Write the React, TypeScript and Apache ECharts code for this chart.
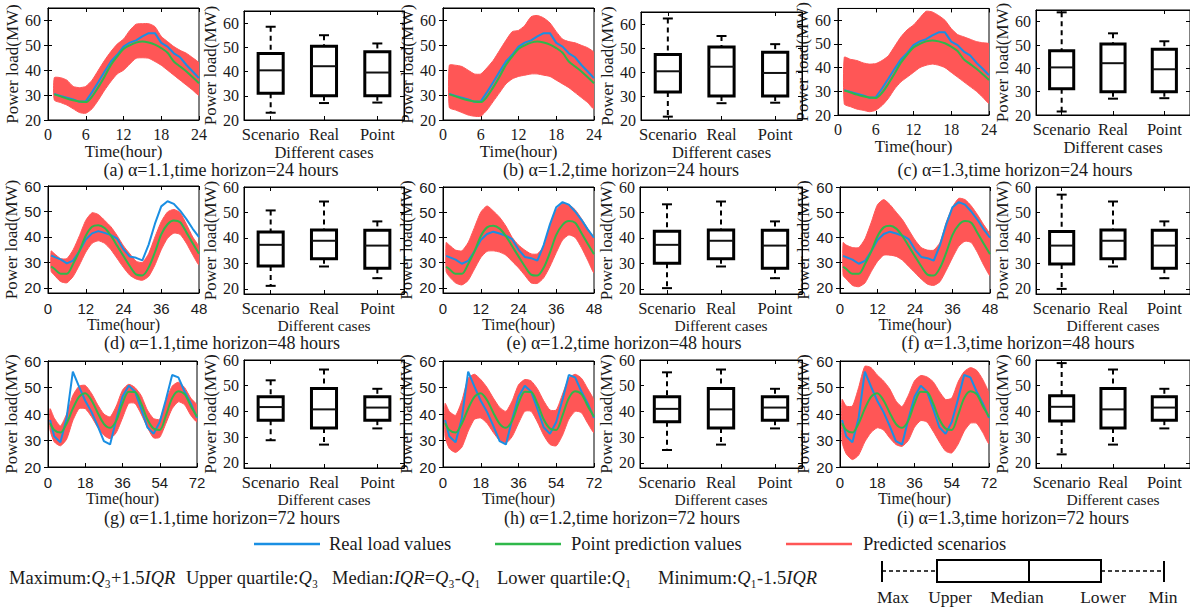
import React, { useEffect, useRef } from "react";
import * as echarts from "echarts";

// ---------------- data ----------------
const hours24 = [1, 2, 3, 4, 5, 6, 7, 8, 9, 10, 11, 12, 13, 14, 15, 16, 17, 18, 19, 20, 21, 22, 23, 24];
const hours48 = [1, 2, 4, 6, 8, 10, 12, 14, 16, 18, 20, 22, 24, 26, 28, 30, 32, 34, 36, 38, 40, 42, 44, 46, 48];
const hours72 = [1, 3, 6, 9, 12, 15, 18, 21, 24, 27, 30, 33, 36, 39, 42, 45, 48, 51, 54, 57, 60, 63, 66, 69, 72];

const real24 = [30.5, 29.7, 29.0, 28.3, 27.3, 27.5, 31.2, 35.3, 39.5, 43.5, 46.2, 49.5, 51.1, 52.0, 53.6, 54.9, 54.9, 51.0, 49.5, 46.8, 45.2, 42.1, 39.5, 36.8];
const point24 = [30.3, 29.5, 28.6, 27.9, 27.4, 27.2, 29.4, 33.2, 37.5, 42.1, 45.5, 48.5, 50.0, 51.1, 51.5, 51.1, 50.3, 48.9, 47.0, 43.5, 41.5, 39.5, 37.2, 34.8];
const upperA = [37, 37, 36, 33.5, 33, 33.5, 36, 40, 44, 47.5, 50.5, 52.5, 56, 58.5, 58.7, 58.7, 57.5, 53.6, 51.5, 49.5, 48, 46.8, 45, 42.8];
const lowerA = [28, 27, 26, 24.5, 23, 22.7, 24.5, 28, 32, 35.5, 38.5, 40, 42.5, 44.8, 45, 44.8, 43.5, 42, 40, 38, 36, 34, 32, 30];
const upperB = [42, 42, 41.5, 40, 38.5, 38.5, 41, 44, 48, 52, 55.5, 56, 58, 61.5, 62, 61, 59, 55.5, 52.5, 51.5, 51, 50, 49, 47];
const lowerB = [25, 24, 23, 22, 21.5, 21.5, 24, 27.5, 31, 34.5, 36.5, 37.5, 38, 38.5, 38.5, 38, 37.5, 36, 34.5, 33, 31, 29, 27, 24.5];
const upperC = [44.4, 43.5, 43, 42, 41.5, 41.7, 43, 45, 49, 53, 56, 58, 61, 63.8, 63.5, 62, 60, 56.5, 54, 53, 52, 51, 50.5, 50];
const lowerC = [24.6, 23.5, 22.5, 22, 21.4, 22, 24, 27, 31, 34, 36, 38, 40, 41, 41.5, 41, 40, 38, 36, 34, 32, 30, 27.5, 25];

const real48 = [32.7, 32.2, 31.2, 29.6, 30.7, 34.5, 39, 41.4, 42.3, 41.6, 40.7, 39.3, 35.2, 32.3, 31.8, 30.8, 37, 45.2, 52, 54, 53, 50.3, 47, 43.2, 39.9];
const point48 = [28.4, 27.5, 25.6, 25.6, 29.5, 34.5, 40.5, 44, 44.6, 43.5, 40.5, 36.5, 32.5, 28.6, 25.3, 24.9, 28, 34, 41, 45, 46.5, 45.8, 41.8, 37.5, 33.4];
const upperD = [34.5, 33.5, 31.5, 31.5, 35, 40.5, 46.5, 49.5, 48.8, 46.5, 44, 40.5, 36.5, 33.4, 30.5, 30, 33.5, 40, 46, 49.8, 50.8, 49.5, 45, 40, 36];
const lowerD = [26.5, 25, 22.5, 22, 24.5, 29, 34, 37.5, 38.5, 37.5, 35, 31.5, 28, 25, 23.5, 23, 24.5, 29, 35, 39.5, 41.5, 41, 37.5, 33, 29];
const upperE = [38, 37, 35, 34.7, 38, 44, 50, 52.5, 50.5, 48, 44.5, 40, 37, 35, 33.5, 33.5, 36.5, 45, 51, 53.5, 53, 51, 47.5, 43.5, 39.3];
const lowerE = [26.5, 24.5, 22, 21.2, 23, 27.5, 32, 34.5, 34.7, 34.2, 33, 30.5, 28, 25, 22, 21.8, 24, 28.5, 34, 39, 41, 40, 36, 31, 26];
const upperF = [38, 37, 36, 36, 39.5, 46, 53, 55, 53, 50, 47, 43, 39, 36, 35, 35, 38, 46, 52, 55.5, 55, 52.5, 49, 45, 41];
const lowerF = [25, 23.5, 21, 20.5, 22, 26.5, 30.5, 33, 33, 32.5, 31, 28.5, 26, 23.5, 21.5, 21, 22.5, 27, 32, 36.5, 38.5, 38, 34, 29, 25];

const real72 = [37.7, 31.6, 29.3, 38.5, 56, 50.3, 45, 40.8, 35.5, 29.8, 28.5, 38, 46.5, 50.7, 48.5, 42, 35, 32.5, 37, 45.5, 54.7, 53.8, 48.5, 44, 38.5];
const point72 = [36.5, 34, 33, 36.4, 42, 46.5, 47.8, 45.2, 40.5, 36.3, 34.8, 37.5, 44, 48.4, 48.3, 44, 38, 34.5, 34, 39.5, 46, 48.6, 47.5, 43, 39];
const upperG = [42, 38.5, 35.5, 40, 47, 50.5, 50.8, 47.8, 43.5, 40, 38.9, 43, 49, 51.2, 50, 47, 41.5, 38.3, 38, 45, 50.5, 52, 50, 46, 43.3];
const lowerG = [34, 29.5, 28, 30.5, 37.5, 42, 42, 39, 35, 32, 30.7, 33, 38.5, 44, 44, 40, 35, 31, 31.2, 36.5, 42, 44.6, 43.5, 39.5, 37];
const upperH = [44, 41, 39.5, 45, 53.5, 55, 53, 50, 46, 42.5, 41, 45, 51, 53, 52.5, 49.5, 45, 41.5, 41.5, 47.5, 53.5, 55, 53.5, 49.5, 45];
const lowerH = [31.5, 27, 25.5, 27.5, 33.5, 38, 38.5, 36.5, 33, 30, 29, 31.5, 36.5, 41, 41, 37, 32, 28.5, 28, 32, 38, 41, 40.5, 36.5, 33];
const upperI = [45.5, 43, 43, 50, 58, 57.5, 54.7, 52.5, 49.5, 45, 42.8, 47, 52.5, 54.5, 54, 52.2, 48.5, 45.5, 46, 52, 56, 57.5, 56.5, 53, 47.5];
const lowerI = [29.5, 25, 22.8, 24.5, 29.5, 33, 34.8, 34, 31, 28.5, 27.8, 30, 35, 37.5, 37, 33.5, 29.5, 26, 25.3, 28.5, 33.5, 36.5, 36.5, 33, 28.8];

// box statistics: [min, Q1, median, Q3, max]
const boxCategories = ["Scenario", "Real", "Point"];
const boxReal24 = [27, 30, 42.2, 50.4, 55];
const boxPoint24 = [27.2, 30, 39.6, 48.2, 51.6];
const boxScenA = [23, 31, 40.5, 47.5, 58.5];
const boxScenB = [21.4, 31.7, 40.3, 47.3, 62.3];
const boxScenC = [21.5, 31.3, 40.4, 47.5, 64];
const boxReal48 = [28.8, 31.8, 38.9, 43.1, 54.3];
const boxPoint48 = [24.2, 28.1, 37, 43, 46.5];
const boxScenD = [21.2, 29, 37.3, 42.3, 50.8];
const boxScenE = [20.3, 30.1, 37.3, 42.6, 53.2];
const boxScenF = [20, 29.8, 37, 42.5, 57];
const boxReal72 = [27.1, 33.6, 40.8, 48.9, 56.3];
const boxPoint72 = [33.4, 36.6, 41.5, 45.7, 48.8];
const boxScenG = [28.8, 36.6, 41.7, 45.7, 52.1];
const boxScenH = [25, 36, 41, 45.7, 55.2];
const boxScenI = [23.3, 36.3, 41.8, 46.1, 58.8];

const yTickValues = [20, 30, 40, 50, 60];
const captions = [
  "(a) α=1.1,time horizon=24 hours",
  "(b) α=1.2,time horizon=24 hours",
  "(c) α=1.3,time horizon=24 hours",
  "(d) α=1.1,time horizon=48 hours",
  "(e) α=1.2,time horizon=48 hours",
  "(f) α=1.3,time horizon=48 hours",
  "(g) α=1.1,time horizon=72 hours",
  "(h) α=1.2,time horizon=72 hours",
  "(i) α=1.3,time horizon=72 hours",
];
const legendNames = ["Real load values", "Point prediction values", "Predicted scenarios"];
const boxLegendLabels = ["Max", "Upper", "Median", "Lower", "Min"];

// ---------------- style ----------------
const SERIF = "'Liberation Serif', 'Times New Roman', serif";
const SANS = "'Liberation Sans', Arial, sans-serif";
const BLUE = "#1a8fe3";
const GREEN = "#2fb84a";
const RED = "#ff5656";
const TXT = "#1a1a1a";

type Rect = { l: number; t: number; r: number; b: number };
interface Panel {
  hours: number[]; real: number[]; point: number[]; upper: number[]; lower: number[];
  boxes: number[][]; caption: string; xMax: number; xStep: number;
  lineY: [number, number]; boxY: [number, number]; numFont: string; numSize: number; labelMargin: number;
  line: Rect; box: Rect; cap: [number, number]; nameGap: number; nameSize: number;
}

const panels: Panel[] = [
  { hours: hours24, real: real24, point: point24, upper: upperA, lower: lowerA, boxes: [boxScenA, boxReal24, boxPoint24], caption: captions[0], xMax: 24, xStep: 6, lineY: [20, 65], boxY: [20, 65], numFont: SERIF, numSize: 16, labelMargin: 6, line: { l: 48, t: 8, r: 199, b: 120 }, box: { l: 244, t: 11, r: 404, b: 120 }, cap: [221, 170], nameGap: 20, nameSize: 17 },
  { hours: hours24, real: real24, point: point24, upper: upperB, lower: lowerB, boxes: [boxScenB, boxReal24, boxPoint24], caption: captions[1], xMax: 24, xStep: 6, lineY: [20, 65], boxY: [20, 65], numFont: SERIF, numSize: 16, labelMargin: 6, line: { l: 443, t: 8, r: 594, b: 120 }, box: { l: 641, t: 12, r: 802, b: 120 }, cap: [621, 170], nameGap: 20, nameSize: 17 },
  { hours: hours24, real: real24, point: point24, upper: upperC, lower: lowerC, boxes: [boxScenC, boxReal24, boxPoint24], caption: captions[2], xMax: 24, xStep: 6, lineY: [20, 65], boxY: [20, 65], numFont: SERIF, numSize: 16, labelMargin: 6, line: { l: 838, t: 7, r: 989, b: 115 }, box: { l: 1036, t: 10, r: 1193, b: 115 }, cap: [1015, 170], nameGap: 20, nameSize: 17 },
  { hours: hours48, real: real48, point: point48, upper: upperD, lower: lowerD, boxes: [boxScenD, boxReal48, boxPoint48], caption: captions[3], xMax: 48, xStep: 12, lineY: [18, 60], boxY: [18, 60], numFont: SANS, numSize: 15, labelMargin: 8, line: { l: 48, t: 186, r: 199, b: 293 }, box: { l: 244, t: 187, r: 404, b: 294 }, cap: [222, 343], nameGap: 18, nameSize: 16 },
  { hours: hours48, real: real48, point: point48, upper: upperE, lower: lowerE, boxes: [boxScenE, boxReal48, boxPoint48], caption: captions[4], xMax: 48, xStep: 12, lineY: [18, 60], boxY: [18, 60], numFont: SANS, numSize: 15, labelMargin: 8, line: { l: 443, t: 187, r: 594, b: 293 }, box: { l: 640, t: 187, r: 802, b: 294 }, cap: [624, 343], nameGap: 18, nameSize: 16 },
  { hours: hours48, real: real48, point: point48, upper: upperF, lower: lowerF, boxes: [boxScenF, boxReal48, boxPoint48], caption: captions[5], xMax: 48, xStep: 12, lineY: [18, 60], boxY: [18, 60], numFont: SANS, numSize: 15, labelMargin: 8, line: { l: 840, t: 187, r: 990, b: 293 }, box: { l: 1036, t: 187, r: 1193, b: 294 }, cap: [1018, 343], nameGap: 18, nameSize: 16 },
  { hours: hours72, real: real72, point: point72, upper: upperG, lower: lowerG, boxes: [boxScenG, boxReal72, boxPoint72], caption: captions[6], xMax: 72, xStep: 18, lineY: [20, 60], boxY: [18, 60], numFont: SANS, numSize: 15, labelMargin: 8, line: { l: 48, t: 361, r: 197, b: 467 }, box: { l: 244, t: 360, r: 404, b: 468 }, cap: [222, 518], nameGap: 18, nameSize: 16 },
  { hours: hours72, real: real72, point: point72, upper: upperH, lower: lowerH, boxes: [boxScenH, boxReal72, boxPoint72], caption: captions[7], xMax: 72, xStep: 18, lineY: [20, 60], boxY: [18, 60], numFont: SANS, numSize: 15, labelMargin: 8, line: { l: 443, t: 361, r: 594, b: 467 }, box: { l: 640, t: 360, r: 802, b: 468 }, cap: [622, 518], nameGap: 18, nameSize: 16 },
  { hours: hours72, real: real72, point: point72, upper: upperI, lower: lowerI, boxes: [boxScenI, boxReal72, boxPoint72], caption: captions[8], xMax: 72, xStep: 18, lineY: [20, 60], boxY: [18, 60], numFont: SANS, numSize: 15, labelMargin: 8, line: { l: 840, t: 361, r: 989, b: 467 }, box: { l: 1036, t: 360, r: 1193, b: 468 }, cap: [1013, 518], nameGap: 18, nameSize: 16 },
];

function zip(xs: number[], ys: number[]) {
  return xs.map((x, i) => [x, ys[i]]);
}

function makeBandRenderer(p: Panel) {
  return function renderBand(params: any, api: any) {
    if (params.dataIndex !== 0) return null;
    const top = p.hours.map((h, k) => api.coord([h, p.upper[k]]));
    const bot = p.hours.map((h, k) => api.coord([h, p.lower[k]])).reverse();
    return {
      type: "polygon",
      shape: { points: top.concat(bot), smooth: 0.2 },
      style: { fill: RED, stroke: RED, lineWidth: 1 },
    };
  };
}

function renderBox(_params: any, api: any) {
  const xi = api.value(0);
  const pMin = api.coord([xi, api.value(1)]);
  const pQ1 = api.coord([xi, api.value(2)]);
  const pMed = api.coord([xi, api.value(3)]);
  const pQ3 = api.coord([xi, api.value(4)]);
  const pMax = api.coord([xi, api.value(5)]);
  const bw = api.size([1, 0])[0] * 0.47;
  const cx = pMin[0];
  const half = bw / 2;
  const cap = 5;
  const dash = { stroke: "#000", lineWidth: 2, lineDash: [5, 4], fill: "none" };
  const solid = { stroke: "#000", lineWidth: 2, fill: "none" };
  return {
    type: "group",
    children: [
      { type: "line", shape: { x1: cx, y1: pMax[1], x2: cx, y2: pQ3[1] }, style: dash },
      { type: "line", shape: { x1: cx, y1: pQ1[1], x2: cx, y2: pMin[1] }, style: dash },
      { type: "line", shape: { x1: cx - cap, y1: pMax[1], x2: cx + cap, y2: pMax[1] }, style: solid },
      { type: "line", shape: { x1: cx - cap, y1: pMin[1], x2: cx + cap, y2: pMin[1] }, style: solid },
      { type: "rect", shape: { x: cx - half, y: pQ3[1], width: bw, height: pQ1[1] - pQ3[1] }, style: { stroke: "#000", lineWidth: 3, fill: "none" } },
      { type: "line", shape: { x1: cx - half, y1: pMed[1], x2: cx + half, y2: pMed[1] }, style: { stroke: "#111", lineWidth: 2 } },
    ],
  };
}

const tickOnly = {
  axisLine: { show: true, lineStyle: { color: "#000" } },
  axisTick: { show: true, inside: true, length: 4, lineStyle: { color: "#000" } },
  axisLabel: { show: false },
  splitLine: { show: false },
  silent: true,
};

function buildOption() {
  const grid: any[] = [];
  const xAxis: any[] = [];
  const yAxis: any[] = [];
  const xMirror: any[] = [];
  const yMirror: any[] = [];
  const series: any[] = [];
  const graphic: any[] = [];

  panels.forEach((p, i) => {
    const gl = i * 2;
    const gb = i * 2 + 1;
    grid.push({ left: p.line.l, top: p.line.t, width: p.line.r - p.line.l, height: p.line.b - p.line.t, show: true, borderColor: "#000", borderWidth: 1, containLabel: false });
    grid.push({ left: p.box.l, top: p.box.t, width: p.box.r - p.box.l, height: p.box.b - p.box.t, show: true, borderColor: "#000", borderWidth: 1, containLabel: false });

    xAxis.push({
      type: "value", gridIndex: gl, min: 0, max: p.xMax, interval: p.xStep,
      axisLine: { show: true, lineStyle: { color: "#000" } },
      axisTick: { show: true, inside: true, length: 4, lineStyle: { color: "#000" } },
      axisLabel: { fontFamily: p.numFont, fontSize: p.numSize, color: TXT, margin: p.labelMargin, showMinLabel: true, showMaxLabel: true },
      splitLine: { show: false },
      name: "Time(hour)", nameLocation: "middle", nameGap: p.nameGap,
      nameTextStyle: { fontFamily: SERIF, fontSize: p.nameSize, color: TXT },
    });
    xAxis.push({
      type: "category", gridIndex: gb, data: boxCategories, boundaryGap: true,
      axisLine: { show: true, lineStyle: { color: "#000" } },
      axisTick: { show: true, inside: true, length: 4, alignWithLabel: true, lineStyle: { color: "#000" } },
      axisLabel: { fontFamily: SERIF, fontSize: 16.5, color: TXT, margin: 6, interval: 0 },
      splitLine: { show: false },
      name: "Different cases", nameLocation: "middle", nameGap: p.nameGap,
      nameTextStyle: { fontFamily: SERIF, fontSize: p.nameSize - 0.5, color: TXT },
    });
    yAxis.push({
      type: "value", gridIndex: gl, min: p.lineY[0], max: p.lineY[1],
      axisLine: { show: true, lineStyle: { color: "#000" } },
      axisTick: { show: true, inside: true, length: 4, customValues: yTickValues, lineStyle: { color: "#000" } },
      axisLabel: { customValues: yTickValues, fontFamily: p.numFont, fontSize: p.numSize, color: TXT, margin: 7 },
      splitLine: { show: false },
      name: "Power load(MW)", nameLocation: "middle", nameGap: 21,
      nameTextStyle: { fontFamily: SERIF, fontSize: 17, color: TXT },
    });
    yAxis.push({
      type: "value", gridIndex: gb, min: p.boxY[0], max: p.boxY[1],
      axisLine: { show: true, lineStyle: { color: "#000" } },
      axisTick: { show: true, inside: true, length: 4, customValues: yTickValues, lineStyle: { color: "#000" } },
      axisLabel: { customValues: yTickValues, fontFamily: SERIF, fontSize: 16, color: TXT, margin: 5 },
      splitLine: { show: false },
      name: "Power load(MW)", nameLocation: "middle", nameGap: 20,
      nameTextStyle: { fontFamily: SERIF, fontSize: 17, color: TXT },
    });

    // mirrored tick marks on the top and right frames
    xMirror.push({ ...tickOnly, type: "value", gridIndex: gl, position: "top", min: 0, max: p.xMax, interval: p.xStep });
    xMirror.push({ ...tickOnly, type: "category", gridIndex: gb, position: "top", data: boxCategories, axisTick: { ...tickOnly.axisTick, alignWithLabel: true } });
    yMirror.push({ ...tickOnly, type: "value", gridIndex: gl, position: "right", min: p.lineY[0], max: p.lineY[1], axisTick: { ...tickOnly.axisTick, customValues: yTickValues } });
    yMirror.push({ ...tickOnly, type: "value", gridIndex: gb, position: "right", min: p.boxY[0], max: p.boxY[1], axisTick: { ...tickOnly.axisTick, customValues: yTickValues } });

    series.push({
      type: "custom", name: legendNames[2], xAxisIndex: gl, yAxisIndex: gl, silent: true, clip: true,
      renderItem: makeBandRenderer(p),
      encode: { x: 0, y: [1, 2] },
      data: p.hours.map((h, k) => [h, p.lower[k], p.upper[k]]),
      z: 1,
    });
    series.push({
      type: "line", name: legendNames[0], xAxisIndex: gl, yAxisIndex: gl, symbol: "none", silent: true,
      data: zip(p.hours, p.real), lineStyle: { color: BLUE, width: 2 }, z: 3,
    });
    series.push({
      type: "line", name: legendNames[1], xAxisIndex: gl, yAxisIndex: gl, symbol: "none", silent: true, smooth: 0.3,
      data: zip(p.hours, p.point), lineStyle: { color: GREEN, width: 2 }, z: 4,
    });
    series.push({
      type: "custom", xAxisIndex: gb, yAxisIndex: gb, silent: true,
      renderItem: renderBox,
      encode: { x: 0, y: [1, 2, 3, 4, 5] },
      data: p.boxes.map((b, k) => [k, ...b]),
      z: 3,
    });

    graphic.push({
      type: "text", x: p.cap[0], y: p.cap[1],
      style: { text: p.caption, fontFamily: SERIF, fontSize: 18, fill: TXT, align: "center", verticalAlign: "middle" },
    });
  });

  // legend
  const legendItems = [
    { color: BLUE, x1: 254, x2: 320, tx: 329, name: legendNames[0] },
    { color: GREEN, x1: 495, x2: 561, tx: 571, name: legendNames[1] },
    { color: RED, x1: 786, x2: 852, tx: 863, name: legendNames[2] },
  ];
  legendItems.forEach((it) => {
    graphic.push({ type: "line", shape: { x1: it.x1, y1: 544, x2: it.x2, y2: 544 }, style: { stroke: it.color, lineWidth: 2.5 } });
    graphic.push({ type: "text", x: it.tx, y: 544, style: { text: it.name, fontFamily: SERIF, fontSize: 18.5, fill: TXT, align: "left", verticalAlign: "middle" } });
  });

  // formula annotations
  const rich = {
    n: { fontFamily: SERIF, fontSize: 18.5, fill: TXT },
    i: { fontFamily: SERIF, fontSize: 18.5, fontStyle: "italic", fill: TXT },
  };
  const notes = [
    { x: 9, text: "{n|Maximum:}{i|Q}{n|₃+1.5}{i|IQR}" },
    { x: 186, text: "{n|Upper quartile:}{i|Q}{n|₃}" },
    { x: 332, text: "{n|Median:}{i|IQR}{n|=}{i|Q}{n|₃-}{i|Q}{n|₁}" },
    { x: 497, text: "{n|Lower quartile:}{i|Q}{n|₁}" },
    { x: 658, text: "{n|Minimum:}{i|Q}{n|₁-1.5}{i|IQR}" },
  ];
  notes.forEach((n) => {
    graphic.push({ type: "text", x: n.x, y: 578, style: { text: n.text, rich, fontFamily: SERIF, fontSize: 18.5, fill: TXT, align: "left", verticalAlign: "middle" } });
  });

  // box explanation diagram
  const by1 = 560, by2 = 582, bmid = 571;
  const bs = { stroke: "#000", lineWidth: 2 };
  graphic.push({ type: "line", shape: { x1: 882, y1: by1 + 1, x2: 882, y2: by2 }, style: bs });
  graphic.push({ type: "line", shape: { x1: 882, y1: bmid, x2: 937, y2: bmid }, style: { ...bs, lineWidth: 1.5, lineDash: [4, 3] } });
  graphic.push({ type: "rect", shape: { x: 937, y: by1, width: 1101 - 937, height: by2 - by1 }, style: { stroke: "#000", lineWidth: 2, fill: "none" } });
  graphic.push({ type: "line", shape: { x1: 1029, y1: by1, x2: 1029, y2: by2 }, style: bs });
  graphic.push({ type: "line", shape: { x1: 1101, y1: bmid, x2: 1164, y2: bmid }, style: { ...bs, lineWidth: 1.5, lineDash: [4, 3] } });
  graphic.push({ type: "line", shape: { x1: 1164, y1: by1 + 1, x2: 1164, y2: by2 }, style: bs });
  const lblX = [893, 950, 1017, 1103, 1163];
  boxLegendLabels.forEach((t, k) => {
    graphic.push({ type: "text", x: lblX[k], y: 597, style: { text: t, fontFamily: SERIF, fontSize: 17.5, fill: TXT, align: "center", verticalAlign: "middle" } });
  });

  return {
    animation: false, backgroundColor: "#fff", grid,
    xAxis: xAxis.concat(xMirror), yAxis: yAxis.concat(yMirror),
    series, graphic,
  };
}

export default function App() {
  const ref = useRef<HTMLDivElement>(null);
  useEffect(() => {
    const chart = echarts.init(ref.current!, undefined, { renderer: "svg" });
    chart.setOption(buildOption() as any);
    return () => chart.dispose();
  }, []);
  return (
    <div
      ref={ref}
      style={{ position: "fixed", left: 0, top: 0, width: 1190, height: 609, background: "#fff" }}
    />
  );
}
